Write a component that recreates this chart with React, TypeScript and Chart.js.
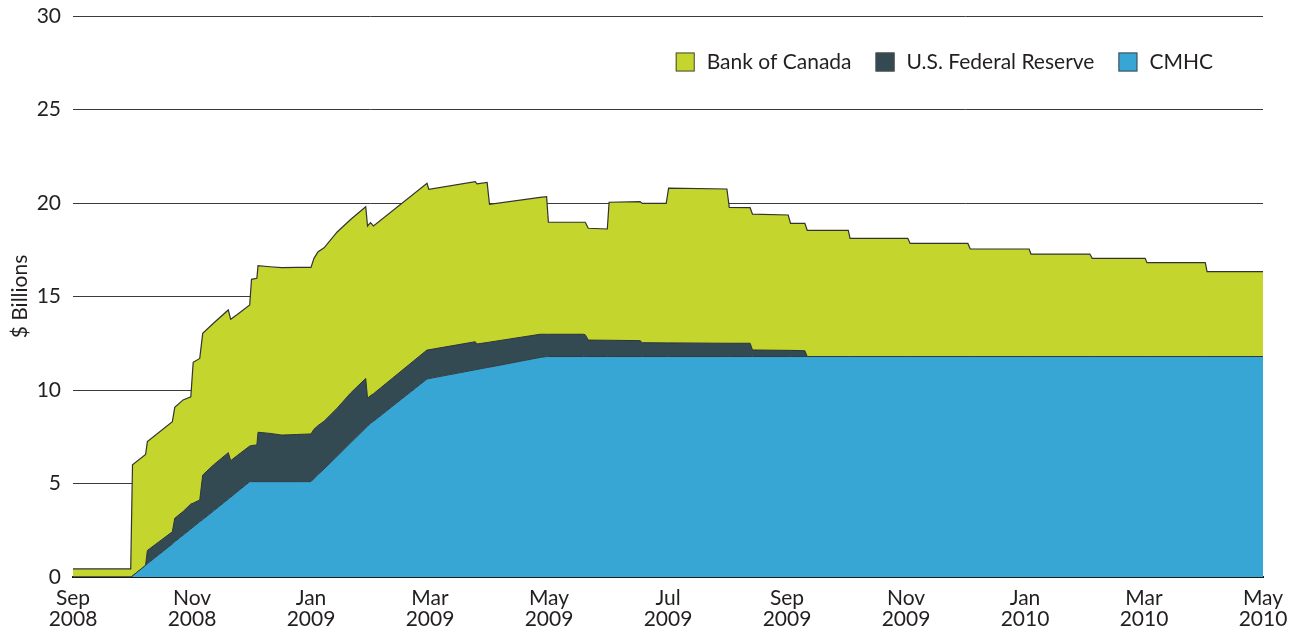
import React, { useEffect, useRef } from 'react';
import { Chart, registerables } from 'chart.js';

Chart.register(...registerables);

// months elapsed since the start of September 2008
const months = [
  0, 0.97, 1.0, 1.22, 1.25, 1.67, 1.71, 1.85, 1.98, 2.02, 2.13, 2.18, 2.36, 2.61, 2.65, 2.75,
  2.97, 3.0, 3.09, 3.11, 3.31, 3.51, 3.76, 4.0, 4.05, 4.12, 4.22, 4.44, 4.67, 4.92, 4.95, 5.0,
  5.05, 5.95, 5.98, 6.76, 6.79, 6.96, 7.0, 7.85, 7.96, 7.99, 8.58, 8.61, 8.66, 8.98, 9.01, 9.53,
  9.57, 9.97, 10.01, 10.99, 11.03, 11.38, 11.42, 12.02, 12.06, 12.3, 12.34, 13.03, 13.06, 14.03,
  14.07, 15.04, 15.08, 16.07, 16.1, 17.09, 17.13, 18.02, 18.05, 19.03, 19.06, 20.0,
];

const cmhc = [
  0, 0, 0.06, 0.62, 0.71, 1.77, 1.89, 2.24, 2.57, 2.67, 2.96, 3.07, 3.53, 4.17, 4.27, 4.53,
  5.1, 5.1, 5.1, 5.1, 5.1, 5.1, 5.1, 5.1, 5.26, 5.48, 5.78, 6.46, 7.19, 7.97, 8.06, 8.22,
  8.33, 10.59, 10.61, 11.08, 11.1, 11.2, 11.22, 11.74, 11.79, 11.79, 11.79, 11.79, 11.79, 11.79, 11.79, 11.79,
  11.79, 11.79, 11.79, 11.79, 11.79, 11.79, 11.79, 11.79, 11.79, 11.79, 11.79, 11.79, 11.79, 11.79,
  11.79, 11.79, 11.79, 11.79, 11.79, 11.79, 11.79, 11.79, 11.79, 11.79, 11.79, 11.79,
];

const fedReserve = [
  0, 0, 0, 0, 0.71, 0.65, 1.25, 1.26, 1.33, 1.28, 1.16, 2.38, 2.46, 2.48, 1.95, 1.94,
  1.9, 1.93, 1.96, 2.64, 2.58, 2.49, 2.52, 2.55, 2.64, 2.62, 2.55, 2.57, 2.66, 2.65, 1.5, 1.48,
  1.47, 1.55, 1.54, 1.5, 1.36, 1.34, 1.34, 1.24, 1.19, 1.19, 1.19, 1.16, 0.88, 0.87, 0.87, 0.85,
  0.74, 0.73, 0.73, 0.71, 0.71, 0.71, 0.35, 0.33, 0.33, 0.31, 0, 0, 0, 0,
  0, 0, 0, 0, 0, 0, 0, 0, 0, 0, 0, 0,
];

const bankOfCanada = [
  0.43, 0.43, 5.94, 5.93, 5.82, 5.89, 5.93, 5.97, 5.74, 7.53, 7.57, 7.58, 7.58, 7.63, 7.56, 7.54,
  7.55, 8.89, 8.91, 8.91, 8.91, 8.95, 8.94, 8.91, 9.14, 9.3, 9.27, 9.42, 9.28, 9.18, 9.21, 9.25,
  8.97, 8.91, 8.58, 8.56, 8.56, 8.56, 7.37, 7.32, 7.36, 5.99, 5.99, 6.02, 5.98, 5.95, 7.38, 7.43,
  7.45, 7.46, 8.27, 8.25, 7.27, 7.25, 7.26, 7.24, 6.79, 6.81, 6.75, 6.75, 6.32, 6.32,
  6.05, 6.05, 5.75, 5.75, 5.48, 5.48, 5.25, 5.25, 5.02, 5.02, 4.54, 4.54,
];

const tickMonths = ['Sep', 'Nov', 'Jan', 'Mar', 'May', 'Jul', 'Sep', 'Nov', 'Jan', 'Mar', 'May'];
const tickYears = ['2008', '2008', '2009', '2009', '2009', '2009', '2009', '2009', '2010', '2010', '2010'];

const FONT = 'Lato, "Open Sans", sans-serif';
const TEXT = '#231f20';

const refLegend = {
  id: 'refLegend',
  afterDraw(chart: any) {
    const ctx = chart.ctx;
    ctx.save();
    ctx.font = `21px ${FONT}`;
    ctx.textBaseline = 'middle';
    ctx.textAlign = 'left';
    const order = [2, 1, 0];
    let x = 1213;
    const y = 62;
    for (let k = order.length - 1; k >= 0; k--) {
      const ds = chart.data.datasets[order[k]];
      const w = ctx.measureText(ds.label).width;
      x -= w;
      ctx.fillStyle = TEXT;
      ctx.fillText(ds.label, x, y);
      x -= 12 + 19;
      ctx.fillStyle = ds.backgroundColor;
      ctx.fillRect(x, y - 9.5, 19, 19);
      ctx.strokeStyle = '#4a4a4a';
      ctx.lineWidth = 1;
      ctx.strokeRect(x + 0.5, y - 9, 18, 18);
      x -= 24;
    }
    ctx.restore();
  },
};

export default function App() {
  const ref = useRef<HTMLCanvasElement | null>(null);

  useEffect(() => {
    if (!ref.current) return;
    const mk = (arr: number[]) => months.map((m, i) => ({ x: m, y: arr[i] }));
    const chart = new Chart(ref.current, {
      type: 'line',
      data: {
        datasets: [
          {
            label: 'CMHC',
            data: mk(cmhc),
            backgroundColor: '#37a6d5',
            borderColor: '#2f3a3f',
            borderWidth: 1,
            fill: 'origin',
            pointRadius: 0,
            tension: 0,
          },
          {
            label: 'U.S. Federal Reserve',
            data: mk(fedReserve),
            backgroundColor: '#344a53',
            borderColor: '#2a3236',
            borderWidth: 1,
            fill: '-1',
            pointRadius: 0,
            tension: 0,
          },
          {
            label: 'Bank of Canada',
            data: mk(bankOfCanada),
            backgroundColor: '#c4d52d',
            borderColor: '#333333',
            borderWidth: 1.2,
            fill: '-1',
            pointRadius: 0,
            tension: 0,
          },
        ],
      },
      options: {
        responsive: false,
        animation: false,
        events: [],
        layout: { padding: { top: 16, right: 37, bottom: 0, left: 0 } },
        plugins: {
          legend: { display: false },
          tooltip: { enabled: false },
        },
        scales: {
          x: {
            type: 'linear',
            min: 0,
            max: 20,
            afterFit: (s: any) => {
              s.height = 58;
            },
            grid: { display: false, drawTicks: false },
            border: { display: true, color: '#1a1a1a', width: 2 },
            ticks: {
              stepSize: 2,
              autoSkip: false,
              maxRotation: 0,
              padding: 11,
              color: TEXT,
              font: { family: FONT, size: 21, lineHeight: 1.0 },
              callback: (v: any) => {
                const i = Math.round(Number(v) / 2);
                return [tickMonths[i], tickYears[i]];
              },
            },
          },
          y: {
            stacked: true,
            min: 0,
            max: 30,
            afterFit: (s: any) => {
              s.width = 73;
              s.paddingTop = 0;
              s.paddingBottom = 0;
            },
            border: { display: false },
            grid: {
              drawTicks: false,
              color: '#3a3a3a',
              lineWidth: 1,
            },
            ticks: {
              stepSize: 5,
              padding: 12,
              color: TEXT,
              font: { family: FONT, size: 21 },
            },
            title: {
              display: true,
              text: '$ Billions',
              color: TEXT,
              font: { family: FONT, size: 21 },
              padding: { top: 8, bottom: 0 },
            },
          },
        },
      },
      plugins: [refLegend],
    });
    return () => chart.destroy();
  }, []);

  return (
    <div style={{ position: 'fixed', left: 0, top: 0, width: 1300, height: 635, background: '#fff' }}>
      <canvas ref={ref} width={1300} height={635} style={{ display: 'block', width: 1300, height: 635 }} />
    </div>
  );
}
